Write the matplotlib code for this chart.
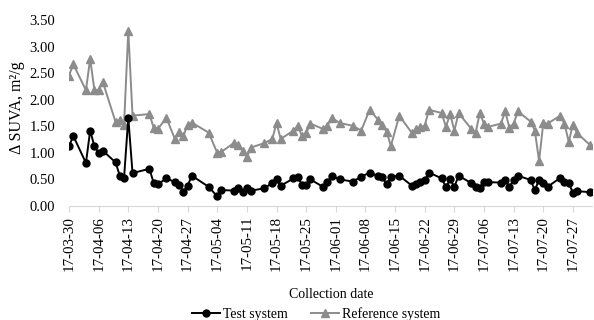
import matplotlib
matplotlib.use("Agg")
import matplotlib.pyplot as plt
import matplotlib.dates as mdates
import numpy as np
import pandas as pd

plt.rcParams["font.family"] = ["Liberation Serif", "DejaVu Serif"]

# sampling day offsets from 2017-03-30
day_offset = [0, 1, 4, 5, 6, 7, 8, 11, 12, 13, 14, 15, 19, 20, 21, 23, 25, 26, 27, 28,
              29, 33, 35, 36, 39, 40, 41, 42, 43, 46, 48, 49, 50, 53, 54, 55, 56, 57, 60, 61,
              62, 64, 67, 69, 71, 73, 74, 75, 76, 78, 81, 82, 83, 84, 85, 88, 89, 90, 91, 92,
              95, 96, 97, 98, 99, 102, 103, 104, 105, 106, 109, 110, 111, 112, 113, 116, 117, 118, 119, 120,
              123]

test_suva = [1.12, 1.32, 0.81, 1.42, 1.12, 1.00, 1.04, 0.82, 0.57, 0.53, 1.66, 0.62, 0.70, 0.43, 0.41, 0.52, 0.45, 0.40, 0.27, 0.38,
             0.57, 0.36, 0.18, 0.30, 0.29, 0.33, 0.27, 0.33, 0.29, 0.33, 0.43, 0.50, 0.38, 0.52, 0.55, 0.40, 0.40, 0.50, 0.36, 0.45,
             0.56, 0.50, 0.46, 0.55, 0.63, 0.56, 0.55, 0.41, 0.55, 0.57, 0.38, 0.42, 0.46, 0.48, 0.63, 0.52, 0.36, 0.50, 0.36, 0.57,
             0.43, 0.36, 0.34, 0.46, 0.45, 0.44, 0.49, 0.36, 0.49, 0.57, 0.49, 0.30, 0.49, 0.44, 0.36, 0.53, 0.46, 0.43, 0.25, 0.28,
             0.26]

ref_suva = [2.45, 2.67, 2.18, 2.77, 2.18, 2.18, 2.33, 1.58, 1.62, 1.53, 3.30, 1.70, 1.73, 1.47, 1.45, 1.66, 1.26, 1.40, 1.31, 1.53,
            1.57, 1.38, 1.00, 1.02, 1.19, 1.15, 1.04, 0.93, 1.10, 1.18, 1.26, 1.56, 1.26, 1.42, 1.51, 1.32, 1.37, 1.55, 1.45, 1.51,
            1.66, 1.56, 1.51, 1.42, 1.81, 1.62, 1.53, 1.40, 1.13, 1.70, 1.37, 1.45, 1.49, 1.51, 1.81, 1.75, 1.49, 1.73, 1.42, 1.75,
            1.45, 1.37, 1.75, 1.55, 1.49, 1.55, 1.78, 1.47, 1.55, 1.78, 1.59, 1.42, 0.85, 1.56, 1.55, 1.70, 1.55, 1.21, 1.53, 1.37,
            1.15]

start = pd.Timestamp("2017-03-30")
dates = start + pd.to_timedelta(day_offset, unit="D")

fig = plt.figure(figsize=(5.94, 3.2), dpi=100)
ax = fig.add_axes([69/594, 1-206/320, 523/594, 186/320])

ax.plot(dates, test_suva, color="black", lw=1.4, marker="o", ms=5.0, label="Test system", zorder=3)
ax.plot(dates, ref_suva, color="#8c8c8c", lw=1.4, marker="^", ms=5.2, label="Reference system", zorder=2)

ax.set_ylim(0, 3.5)
ax.set_yticks(np.arange(0, 3.51, 0.5))
ax.yaxis.set_major_formatter(plt.FuncFormatter(lambda v, p: f"{v:.2f}"))
ax.set_xlim(start, start + pd.Timedelta(days=123.5))
ax.set_xticks(pd.date_range(start, start + pd.Timedelta(days=123), freq="7D"))
ax.xaxis.set_major_formatter(mdates.DateFormatter("%y-%m-%d"))
ax.tick_params(axis="x", rotation=90, labelsize=10.8, length=4, color="#d9d9d9", pad=3)
ax.tick_params(axis="y", labelsize=10.5, length=0, pad=10)

for s in ["top", "right", "left"]:
    ax.spines[s].set_visible(False)
ax.spines["bottom"].set_color("#d9d9d9")

ax.set_ylabel("\u0394 SUVA, m\u00b2/g", fontsize=11.5)
ax.yaxis.set_label_coords(-0.084, 0.53)
fig.text(331/594, 1-295/320, "Collection date", ha="center", va="center", fontsize=10)

fig.legend(loc="center", bbox_to_anchor=(316/594, 1-314/320), ncol=2, frameon=False,
           fontsize=10, handlelength=2.0, columnspacing=1.7, handletextpad=0.2)

fig.savefig("out.png", dpi=100)
